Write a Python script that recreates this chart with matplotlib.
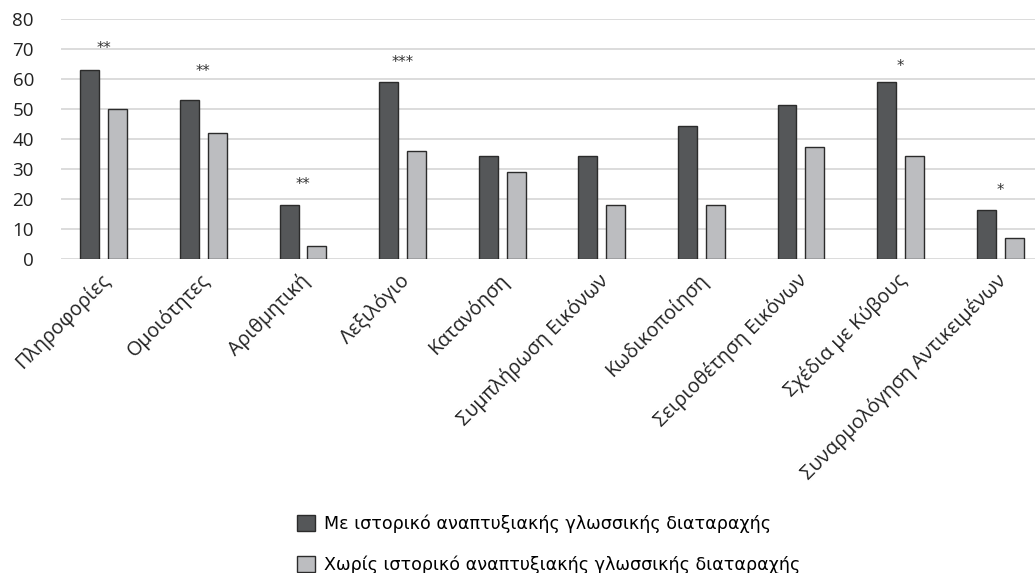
import numpy as np
import matplotlib
matplotlib.use("Agg")
import matplotlib.pyplot as plt
from matplotlib.patches import Patch

categories = ["Πληροφορίες", "Ομοιότητες", "Αριθμητική", "Λεξιλόγιο", "Κατανόηση",
              "Συμπλήρωση Εικόνων", "Κωδικοποίηση", "Σειριοθέτηση Εικόνων",
              "Σχέδια με Κύβους", "Συναρμολόγηση Αντικειμένων"]
with_history = [63, 53, 18, 59, 34.5, 34.5, 44.5, 51.5, 59, 16.5]
without_history = [50, 42, 4.5, 36, 29, 18, 18, 37.5, 34.5, 7]
sig_marks = ["**", "**", "**", "***", "", "", "", "", "*", "*"]
sig_y = [70.3, 62.4, 24.7, 65.5, 0, 0, 0, 0, 64.3, 22.7]
series_names = ["Με ιστορικό αναπτυξιακής γλωσσικής διαταραχής",
                "Χωρίς ιστορικό αναπτυξιακής γλωσσικής διαταραχής"]

dark = "#555759"
light = "#bcbdc0"
edge = "#2b2b2b"

fig = plt.figure(figsize=(10.35, 5.73), dpi=100)
ax = fig.add_axes([61 / 1035, 1 - 259 / 573, 974 / 1035, 240 / 573])

x = np.arange(len(categories))
w = 0.19
ax.bar(x - 0.14, with_history, w, color=dark, edgecolor=edge, linewidth=1.0, zorder=3)
ax.bar(x + 0.14, without_history, w, color=light, edgecolor=edge, linewidth=1.0, zorder=3)

# significance stars above each pair
for xi, m, yv in zip(x, sig_marks, sig_y):
    if m:
        ax.text(xi, yv, m, ha="center", va="center", fontsize=10.5, color="#333333")

ax.set_ylim(0, 80)
ax.set_xlim(-0.43, 9.35)
ax.set_yticks(range(0, 81, 10))
ax.yaxis.grid(True, color="#d6d6d6", linewidth=1.2, zorder=0)
ax.set_axisbelow(True)
for s in ax.spines.values():
    s.set_visible(False)
ax.tick_params(axis="both", length=0)
ax.tick_params(axis="y", pad=19.5, labelsize=13.5, labelcolor="#222222")
for lbl in ax.get_yticklabels():
    lbl.set_fontfamily("Open Sans")

ax.set_xticks(x - 0.04)
ax.set_xticklabels(categories, rotation=45, ha="right", rotation_mode="anchor",
                   fontsize=14.2, family="Open Sans", color="#222222")
ax.tick_params(axis="x", pad=8)

handles = [Patch(facecolor=dark, edgecolor=edge), Patch(facecolor=light, edgecolor=edge)]
fig.legend(handles, series_names, loc="upper left", bbox_to_anchor=(281 / 1035, 1 - 499 / 573),
           frameon=False, handlelength=1.05, handleheight=1.05, handletextpad=0.5,
           labelspacing=1.25, prop={"family": "DejaVu Sans", "size": 12.6})

fig.savefig("out.png", dpi=100)
